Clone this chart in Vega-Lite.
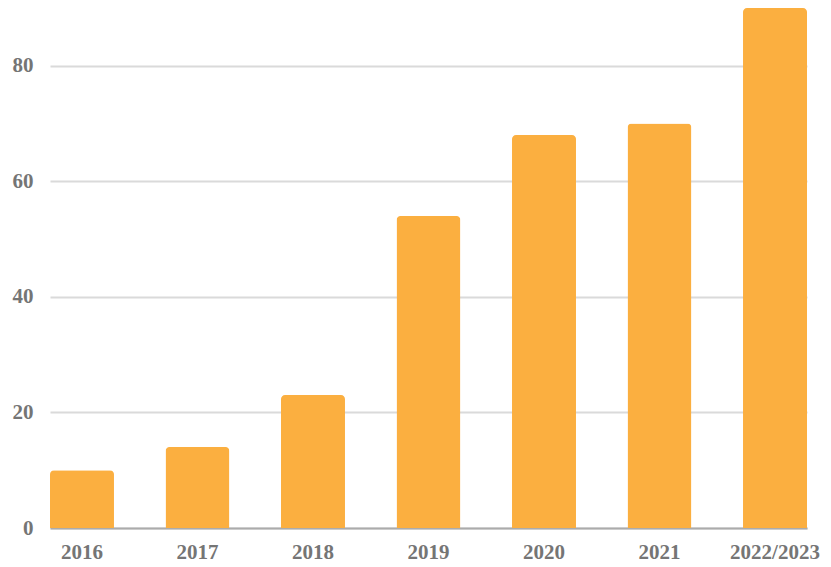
{
  "$schema": "https://vega.github.io/schema/vega-lite/v6.json",
  "width": 757,
  "height": 520,
  "autosize": {"type": "none"},
  "padding": {"left": 50, "top": 8, "right": 24, "bottom": 39},
  "background": "white",
  "config": {"view": {"stroke": null}},
  "data": {"values": [
    {"year": "2016", "value": 10},
    {"year": "2017", "value": 14},
    {"year": "2018", "value": 23},
    {"year": "2019", "value": 54},
    {"year": "2020", "value": 68},
    {"year": "2021", "value": 70},
    {"year": "2022/2023", "value": 90}
  ]},
  "mark": {"type": "bar", "color": "#FBAF40", "cornerRadiusTopLeft": 4, "cornerRadiusTopRight": 4},
  "encoding": {
    "x": {
      "field": "year", "type": "nominal", "sort": null,
      "scale": {"paddingInner": 0.446, "paddingOuter": 0},
      "axis": {"title": null, "labelAngle": 0, "ticks": false, "domainColor": "#ababab", "domainWidth": 2,
        "labelFont": "Liberation Serif", "labelFontWeight": "bold", "labelFontSize": 21, "labelColor": "#757575", "labelPadding": 13}
    },
    "y": {
      "field": "value", "type": "quantitative",
      "scale": {"domain": [0, 90], "nice": false},
      "axis": {"title": null, "values": [0, 20, 40, 60, 80], "ticks": false, "domain": false,
        "gridColor": "#dadada", "gridWidth": 2,
        "labelFont": "Liberation Serif", "labelFontWeight": "bold", "labelFontSize": 21, "labelColor": "#757575", "labelPadding": 17}
    }
  }
}
